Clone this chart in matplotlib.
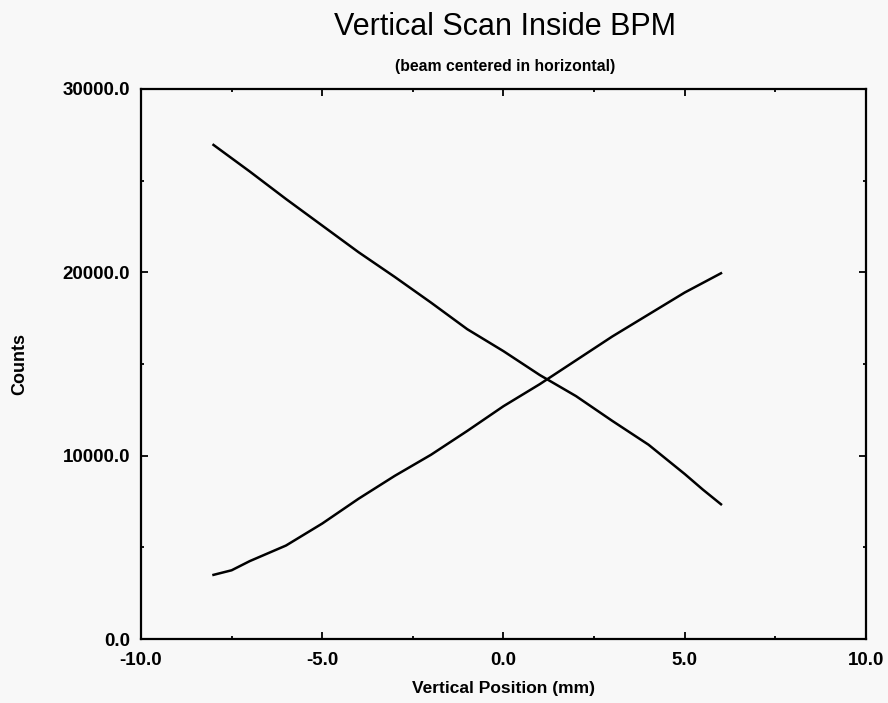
import numpy as np
import matplotlib
matplotlib.use("Agg")
import matplotlib.pyplot as plt
from matplotlib.ticker import MultipleLocator, FormatStrFormatter

plt.rcParams['font.family'] = ['Liberation Sans', 'DejaVu Sans']

# vertical position (mm) and counts
pos_up = [-8, -7.5, -7, -6, -5, -4, -3, -2, -1, 0, 1, 2, 3, 4, 5, 6]
counts_up = [3500, 3750, 4250, 5100, 6300, 7650, 8900, 10050, 11350,
             12700, 13900, 15200, 16500, 17700, 18900, 19950]

pos_down = [-8, -7, -6, -5, -4, -3, -2, -1, 0, 1, 2, 3, 4, 5, 5.5, 6]
counts_down = [26950, 25500, 24000, 22550, 21100, 19750, 18350, 16900,
               15700, 14400, 13250, 11900, 10600, 9000, 8150, 7350]

bg = '#f8f8f8'
fig = plt.figure(figsize=(8.88, 7.03), dpi=100, facecolor=bg)
ax = fig.add_axes([0.1588, 0.0910, 0.8164, 0.7824], facecolor=bg)

ax.plot(pos_down, counts_down, '-', color='black', lw=1.8)
ax.plot(pos_up, counts_up, '-', color='black', lw=1.8)

ax.set_xlim(-10, 10)
ax.set_ylim(0, 30000)
ax.xaxis.set_major_locator(MultipleLocator(5))
ax.xaxis.set_minor_locator(MultipleLocator(2.5))
ax.yaxis.set_major_locator(MultipleLocator(10000))
ax.yaxis.set_minor_locator(MultipleLocator(5000))
ax.xaxis.set_major_formatter(FormatStrFormatter('%.1f'))
ax.yaxis.set_major_formatter(FormatStrFormatter('%.1f'))
ax.tick_params(which='both', direction='in', top=True, right=True,
               width=1.3, labelsize=13.5)
ax.tick_params(which='major', length=5)
ax.tick_params(axis='x', which='major', pad=9)
ax.tick_params(axis='y', which='major', pad=8)
ax.tick_params(which='minor', length=2.5)
for lab in ax.get_xticklabels() + ax.get_yticklabels():
    lab.set_fontweight('bold')
for s in ax.spines.values():
    s.set_linewidth(1.6)

ax.set_xlabel('Vertical Position (mm)', fontsize=12.5, fontweight='bold', labelpad=9)
ax.set_ylabel('Counts', fontsize=13, fontweight='bold')
ax.yaxis.set_label_coords(-0.156, 0.5)

fig.text(0.569, 0.962, 'Vertical Scan Inside BPM', fontsize=22,
         ha='center', va='center')
fig.text(0.569, 0.906, '(beam centered in horizontal)', fontsize=11.3,
         fontweight='bold', ha='center', va='center')

fig.savefig('out.png', dpi=100, facecolor=bg)
